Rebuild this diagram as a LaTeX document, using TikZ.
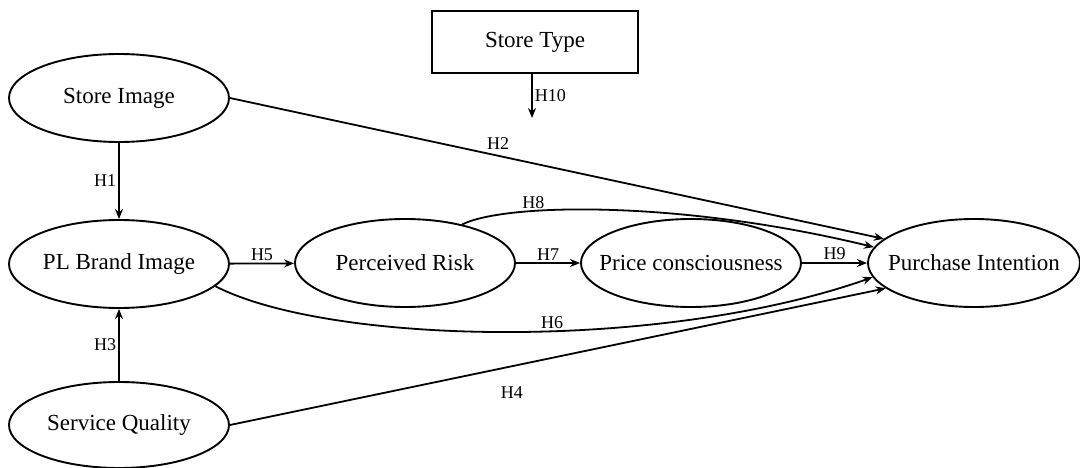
\documentclass[tikz,border=0pt]{standalone}
\usepackage{fontspec}
\setmainfont{Liberation Serif}
\usetikzlibrary{shapes.geometric,arrows.meta}

\begin{document}
\begin{tikzpicture}[x=1pt,y=-1pt,
        construct/.style={
        ellipse, draw=black, line width=1.9pt,
        inner xsep=-16pt, inner ysep=0pt,
        minimum width=220pt, minimum height=88pt,
        font=\fontsize{23}{26}\selectfont},
        hyp/.style={-{Stealth[length=10pt,width=8pt]}, line width=1.8pt},
        hlabel/.style={font=\fontsize{18}{20}\selectfont, inner sep=2pt},
        ]

        \useasboundingbox (0,0) rectangle (1080,468);

        \node (st) [draw=black, line width=1.9pt, minimum width=206pt, minimum height=62pt,
                    font=\fontsize{23}{26}\selectfont] at (535,42){Store Type};
        \coordinate (mod) at (532,118);

        \node (si) [construct] at (119,98){Store Image};
        \node (pl) [construct] at (119,264){PL Brand Image};
        \node (sq) [construct, minimum height=86pt] at (119,425){Service Quality};
        \node (pr) [construct] at (405,263){Perceived Risk};
        \node (pc) [construct] at (691,263){Price consciousness};
        \node (pi) [construct, minimum width=212pt] at (974,263){Purchase Intention};

        \draw [hyp] (st.south -| mod) -- (mod) node [hlabel, midway, right] {H10};
        \draw [hyp] (si) -- (pl) node [hlabel, midway, left] {H1};
        \draw [hyp] (sq) -- (pl) node [hlabel, midway, left] {H3};
        \draw [hyp] (pl) -- (pr) node [hlabel, midway, above] {H5};
        \draw [hyp] (pr) -- (pc) node [hlabel, midway, above] {H7};
        \draw [hyp] (pc) -- (pi) node [hlabel, midway, above] {H9};
        \draw [hyp] (si.east) -- (pi.165) node [hlabel, pos=0.41, above=3pt] {H2};
        \draw [hyp] (sq.east) -- (pi.196) node [hlabel, pos=0.43, below=18pt] {H4};
        \draw [hyp] (pr.34) .. controls (505,203) and (680,200) .. (pi.171)
              node [hlabel, pos=0.3, above=-1pt] {H8};
        \draw [hyp] (pl.-13) .. controls (330,345) and (660,352) .. (pi.188)
              node [hlabel, pos=0.56, above=-1pt] {H6};
    \end{tikzpicture}
\end{document}
